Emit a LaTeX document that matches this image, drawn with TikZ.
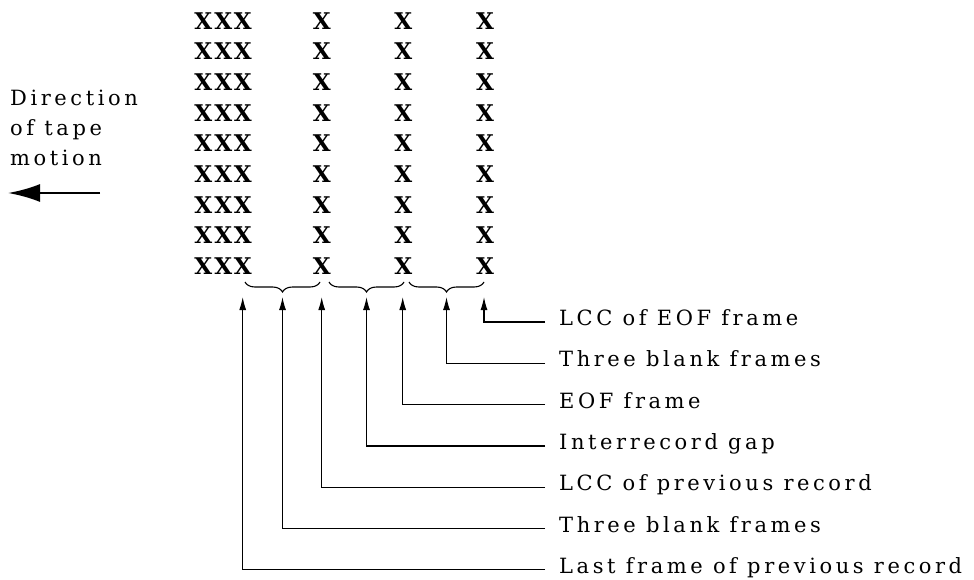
\documentclass[tikz,border=0pt]{standalone}
\usepackage{fontspec}
\setmainfont{DejaVu Serif}
\newfontfamily\labelfont{DejaVu Serif}[LetterSpace=17]
\newfontfamily\framefont{DejaVu Serif}
\usetikzlibrary{arrows.meta,decorations.pathreplacing}

\begin{document}
\begin{tikzpicture}[x=1pt,y=-1pt,
		tapex/.style={inner sep=0pt,font=\framefont\fontsize{23}{23}\selectfont\bfseries},
		lbl/.style={anchor=west,inner xsep=14pt,inner ysep=0pt,text height=12pt,text depth=5pt,
			font=\labelfont\fontsize{21}{21}\selectfont},
		lead/.style={line width=1.2pt,-{Latex[length=13pt,width=7pt]}},
		gapbrace/.style={line width=1.1pt,decorate,decoration={brace,mirror,amplitude=10pt}}]
	\useasboundingbox (0,0) rectangle (974,580);
	% frames on the tape
	\foreach \r in {1,...,9}{
		\foreach \c/\xx in {p/203.3,q/223.3,r/242.7,s/321.7,t/403.3,u/485}{
			\node[tapex] (x\c\r) at (\xx,{20.7+30.7*(\r-1)}) {X};
		}
	}
	% direction of motion
	\node[anchor=north west,inner sep=0pt,align=left,font=\labelfont\fontsize{21}{30}\selectfont]
		(dirlbl) at (10,90) {Direction\\of tape\\motion};
	\coordinate (mvA) at (100,193);
	\coordinate (mvB) at (8,193);
	\draw[line width=2.6pt,-{Latex[length=32pt,width=18pt]}] (mvA) -- (mvB);
	% braces under the gaps
	\coordinate (bA0) at (245,282); \coordinate (bA1) at (320,282);
	\coordinate (bB0) at (329,282); \coordinate (bB1) at (404,282);
	\coordinate (bC0) at (409,282); \coordinate (bC1) at (484,282);
	\draw[gapbrace] (bA0) -- (bA1);
	\draw[gapbrace] (bB0) -- (bB1);
	\draw[gapbrace] (bC0) -- (bC1);
	% labels and leaders
	\foreach \k/\xx/\txt in {1/484/LCC of EOF frame,2/446.5/Three blank frames,3/402.7/EOF frame,
			4/366.5/Interrecord gap,5/321.7/LCC of previous record,6/282.5/Three blank frames,
			7/242.7/Last frame of previous record}{
		\node[lbl] (lbl\k) at (545,{322+41.3*(\k-1)}) {\txt};
		\coordinate (tip\k) at (\xx,297);
		\draw[lead] (lbl\k.west) -| (tip\k);
	}
\end{tikzpicture}
\end{document}
